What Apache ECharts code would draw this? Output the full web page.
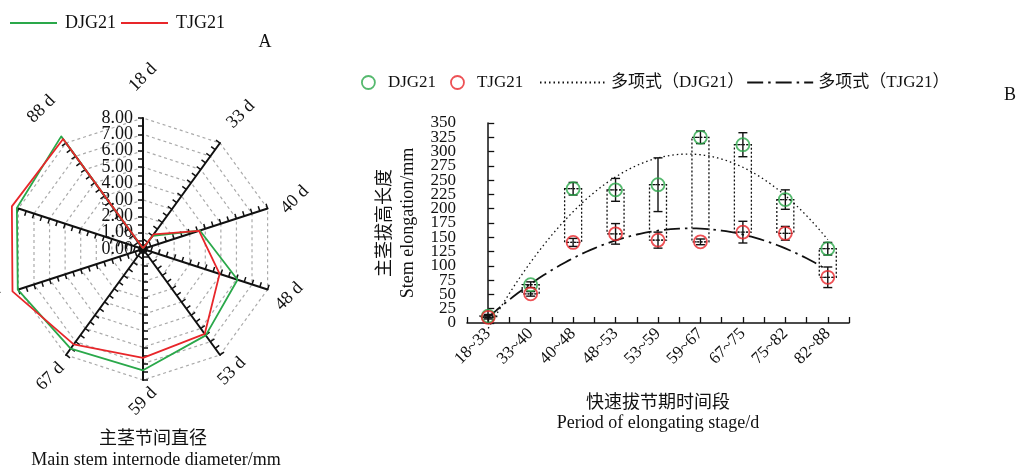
<!DOCTYPE html>
<html>
<head>
<meta charset="utf-8">
<script src="https://cdn.jsdelivr.net/npm/echarts@6/dist/echarts.min.js"></script>
<style>
  html, body { margin: 0; padding: 0; background: #fff; }
  #chart { width: 1023px; height: 470px; }
</style>
</head>
<body>
<div id="chart"></div>
<script>
// ---- Panel A: main stem internode diameter (mm) at each sampling day ----
const diamDays = ['18 d', '33 d', '40 d', '48 d', '53 d', '59 d', '67 d', '75 d', '82 d', '88 d'];
const diamDJG21 = [0.05, 1.0, 3.65, 6.07, 6.52, 7.41, 7.52, 8.04, 8.1, 8.5];
const diamTJG21 = [0.05, 1.1, 3.6, 4.92, 6.41, 6.65, 7.2, 8.38, 8.42, 8.3];
const diamTicks = [0, 1, 2, 3, 4, 5, 6, 7, 8];

// ---- Panel B: stem elongation (mm) in each rapid-jointing period ----
const periods = ['18~33', '33~40', '40~48', '48~53', '53~59', '59~67', '67~75', '75~82', '82~88'];
const elongDJG21 = [12, 67, 235, 233, 242, 325, 312, 216, 130];
const errDJG21 = [3, 5, 11, 20, 47, 11, 21, 17, 11];
const elongTJG21 = [10, 51, 141, 156, 145, 142, 159, 157, 80];
const errTJG21 = [3, 4, 7, 18, 14, 5, 19, 12, 18];
const elongTicks = [0, 25, 50, 75, 100, 125, 150, 175, 200, 225, 250, 275, 300, 325, 350];

const SERIF = '"Liberation Serif", "Noto Sans CJK SC", serif';
const GREEN = '#2aa84a';
const RED = '#e8262a';
const INK = '#111';

// Second-order least-squares trend line of a series over x = 0..n-1
function fitQuadratic(ys) {
  const s = [0, 0, 0, 0, 0], t = [0, 0, 0];
  ys.forEach((y, x) => {
    for (let k = 0; k < 5; k++) s[k] += Math.pow(x, k);
    for (let k = 0; k < 3; k++) t[k] += y * Math.pow(x, k);
  });
  const m = [[s[0], s[1], s[2], t[0]], [s[1], s[2], s[3], t[1]], [s[2], s[3], s[4], t[2]]];
  for (let i = 0; i < 3; i++) {
    for (let j = i + 1; j < 3; j++) {
      const f = m[j][i] / m[i][i];
      for (let k = i; k < 4; k++) m[j][k] -= f * m[i][k];
    }
  }
  const c = [0, 0, 0];
  for (let i = 2; i >= 0; i--) {
    let v = m[i][3];
    for (let k = i + 1; k < 3; k++) v -= m[i][k] * c[k];
    c[i] = v / m[i][i];
  }
  return x => c[0] + c[1] * x + c[2] * x * x;
}
function trendPoints(ys) {
  const f = fitQuadratic(ys);
  const pts = [];
  for (let i = 0; i <= (ys.length - 1) * 10; i++) pts.push([i / 10, f(i / 10)]);
  return pts;
}

// Tick labels are tightly packed, so alternate ones go on two overlaid axes
const tickIndex = (v, ticks) => ticks.findIndex(t => Math.abs(t - v) < 1e-6);
const evenTick = (ticks, fmt) => v => { const i = tickIndex(v, ticks); return i >= 0 && i % 2 === 0 ? fmt(ticks[i]) : ''; };
const oddTick = (ticks, fmt) => v => { const i = tickIndex(v, ticks); return i >= 0 && i % 2 === 1 ? fmt(ticks[i]) : ''; };

// Radar indicators run counter-clockwise from the top, so list the days in that order
const radarOrder = [0].concat(diamDays.slice(1).map((d, i) => diamDays.length - 1 - i));
const byRadar = arr => radarOrder.map(i => arr[i]);
const RADAR_C = [143, 249];
const RADAR_R = 131;
const diamMax = diamTicks[diamTicks.length - 1];
const diamFmt = v => Number(v).toFixed(2);

const radarBase = {
  center: RADAR_C,
  radius: RADAR_R,
  startAngle: 90,
  shape: 'polygon',
  axisName: { show: false },
  splitArea: { show: false }
};
const radarLabelBase = {
  show: false, color: INK, fontSize: 18, fontFamily: SERIF, margin: 10, hideOverlap: false
};
// Indicators for a label-carrying radar: only the top (18 d) axis shows numbers
const labelledIndicators = () => radarOrder.map((i, k) => Object.assign(
  { name: diamDays[i], min: 0, max: diamMax },
  k === 0 ? { axisLabel: { show: true } } : {}
));

// Day names around the radar, rotated like the printed labels
const dayLabels = diamDays.map((d, k) => {
  const th = (90 - 36 * k) * Math.PI / 180;
  const r = RADAR_R + 31 + 9.5 * Math.sin(th) - 5.6 * Math.cos(th);
  return {
    type: 'text',
    x: RADAR_C[0] + r * Math.cos(th),
    y: RADAR_C[1] - r * Math.sin(th),
    rotation: Math.PI / 4,
    style: { text: d, fontSize: 18, fontFamily: SERIF, fill: INK, align: 'center', verticalAlign: 'middle' }
  };
});

function spanBoxItem(params, api) {
  const x = api.value(0);
  const a = api.coord([x, api.value(1)]);
  const b = api.coord([x, api.value(2)]);
  const half = 8.5;
  return {
    type: 'rect',
    shape: { x: a[0] - half, y: a[1], width: half * 2, height: b[1] - a[1] },
    style: { fill: 'none', stroke: INK, lineWidth: 1.3, lineDash: [2, 2] }
  };
}

function errorBarItem(params, api) {
  const x = api.value(0), y = api.value(1), e = api.value(2);
  const top = api.coord([x, y + e]);
  const bot = api.coord([x, y - e]);
  const mid = api.coord([x, y]);
  const cap = 4.5;
  const st = { stroke: INK, lineWidth: 1.4 };
  return {
    type: 'group',
    children: [
      { type: 'line', shape: { x1: top[0], y1: top[1], x2: bot[0], y2: bot[1] }, style: st },
      { type: 'line', shape: { x1: top[0] - cap, y1: top[1], x2: top[0] + cap, y2: top[1] }, style: st },
      { type: 'line', shape: { x1: bot[0] - cap, y1: bot[1], x2: bot[0] + cap, y2: bot[1] }, style: st },
      { type: 'line', shape: { x1: mid[0] - 5.5, y1: mid[1], x2: mid[0] + 5.5, y2: mid[1] },
        style: { stroke: INK, lineWidth: 1.2, lineDash: [1.5, 1.5] } }
    ]
  };
}

const elongMin = elongTicks[0];
const elongMax = elongTicks[elongTicks.length - 1];
const elongStep = elongTicks[1] - elongTicks[0];
const yLabelBase = { fontSize: 17, fontFamily: SERIF, color: INK, margin: 11, hideOverlap: false };

const chart = echarts.init(document.getElementById('chart'), null, { renderer: 'canvas' });

chart.setOption({
  animation: false,
  backgroundColor: '#fff',
  textStyle: { fontFamily: SERIF, color: INK },
  legend: [
    {
      left: 10, top: 14, padding: 0, itemWidth: 47, itemHeight: 2, itemGap: 5, icon: 'rect',
      selectedMode: false,
      data: ['DJG21', 'TJG21'],
      textStyle: { fontSize: 18, fontFamily: SERIF, color: INK, padding: [0, 0, 0, 3] }
    },
    {
      left: 361, top: 74, padding: 0, itemWidth: 13, itemHeight: 13, itemGap: 14,
      selectedMode: false,
      data: ['DJG21 stem', 'TJG21 stem'],
      formatter: n => n.replace(' stem', ''),
      itemStyle: { borderWidth: 1.8 },
      textStyle: { fontSize: 17, fontFamily: SERIF, color: INK, padding: [0, 0, 0, 8] }
    },
    {
      left: 539, top: 74, padding: 0, itemWidth: 66, itemHeight: 13, itemGap: 2,
      selectedMode: false,
      data: ['多项式（DJG21）', '多项式（TJG21）'],
      itemStyle: { opacity: 0 },
      textStyle: { fontSize: 17, fontFamily: SERIF, color: INK }
    }
  ],
  graphic: dayLabels.concat([
    { type: 'text', x: 265, y: 42, style: { text: 'A', fontSize: 18, fontFamily: SERIF, fill: INK, align: 'center', verticalAlign: 'middle' } },
    { type: 'text', x: 1010, y: 95, style: { text: 'B', fontSize: 18, fontFamily: SERIF, fill: INK, align: 'center', verticalAlign: 'middle' } },
    { type: 'text', x: 153, y: 439, style: { text: '主茎节间直径', fontSize: 18, fontFamily: SERIF, fill: INK, align: 'center', verticalAlign: 'middle' } },
    { type: 'text', x: 156, y: 460, style: { text: 'Main stem internode diameter/mm', fontSize: 18, fontFamily: SERIF, fill: INK, align: 'center', verticalAlign: 'middle' } }
  ]),
  radar: [
    // spokes with half-unit ticks
    Object.assign({}, radarBase, {
      splitNumber: (diamTicks.length - 1) * 2,
      indicator: radarOrder.map(i => ({ name: diamDays[i], min: 0, max: diamMax })),
      axisLine: { show: true, lineStyle: { color: INK, width: 2 } },
      axisTick: { show: true, length: 5, lineStyle: { color: INK, width: 1.5 } },
      axisLabel: { show: false },
      splitLine: { show: false }
    }),
    // dashed rings and the even unit labels
    Object.assign({}, radarBase, {
      splitNumber: diamTicks.length - 1,
      indicator: labelledIndicators(),
      axisLine: { show: false },
      axisTick: { show: false },
      axisLabel: Object.assign({}, radarLabelBase, {
        showMinLabel: true, showMaxLabel: true, formatter: evenTick(diamTicks, diamFmt)
      }),
      splitLine: { show: true, lineStyle: { color: '#aaaaaa', width: 1.2, type: [3, 3] } }
    }),
    // odd unit labels
    Object.assign({}, radarBase, {
      splitNumber: diamTicks.length - 1,
      indicator: labelledIndicators(),
      axisLine: { show: false },
      axisTick: { show: false },
      axisLabel: Object.assign({}, radarLabelBase, {
        showMinLabel: false, showMaxLabel: false, formatter: oddTick(diamTicks, diamFmt)
      }),
      splitLine: { show: false }
    })
  ],
  grid: { left: 467, right: 174, top: 123, bottom: 147 },
  xAxis: {
    type: 'value',
    min: -0.5, max: periods.length - 0.5, interval: 0.5,
    name: '快速拔节期时间段\nPeriod of elongating stage/d',
    nameLocation: 'middle', nameGap: 70,
    nameTextStyle: { fontSize: 18, fontFamily: SERIF, color: INK, lineHeight: 20 },
    axisLine: { show: true, lineStyle: { color: INK, width: 1.5 } },
    axisTick: { show: true, inside: true, length: 6, lineStyle: { color: INK, width: 1.3 } },
    splitLine: { show: false },
    axisLabel: {
      rotate: 45, fontSize: 17, fontFamily: SERIF, color: INK, margin: 8,
      hideOverlap: false,
      formatter: v => {
        const i = Math.round(v);
        return Math.abs(v - i) < 1e-6 && i >= 0 && i < periods.length ? periods[i] : '';
      }
    }
  },
  yAxis: [
    {
      type: 'value',
      min: elongMin, max: elongMax, interval: elongStep,
      name: '主茎拔高长度\nStem elongation/mm',
      nameLocation: 'middle', nameRotate: 90, nameGap: 47,
      nameTextStyle: { fontSize: 18, fontFamily: SERIF, color: INK, lineHeight: 23 },
      axisLine: { show: true, lineStyle: { color: INK, width: 1.5 } },
      axisTick: { show: true, inside: true, length: 6, lineStyle: { color: INK, width: 1.3 } },
      splitLine: { show: false },
      axisLabel: Object.assign({}, yLabelBase, {
        showMinLabel: true, showMaxLabel: true, formatter: evenTick(elongTicks, String)
      })
    },
    {
      type: 'value',
      position: 'left',
      min: elongMin, max: elongMax, interval: elongStep,
      axisLine: { show: false },
      axisTick: { show: false },
      splitLine: { show: false },
      axisLabel: Object.assign({}, yLabelBase, {
        showMinLabel: false, showMaxLabel: false, formatter: oddTick(elongTicks, String)
      })
    }
  ],
  series: [
    {
      type: 'radar',
      radarIndex: 1,
      symbol: 'none',
      data: [
        { name: 'DJG21', value: byRadar(diamDJG21), itemStyle: { color: GREEN }, lineStyle: { color: GREEN, width: 1.8 } },
        { name: 'TJG21', value: byRadar(diamTJG21), itemStyle: { color: RED }, lineStyle: { color: RED, width: 1.8 } }
      ],
      z: 5
    },
    {
      type: 'custom',
      name: 'range',
      renderItem: spanBoxItem,
      data: periods.map((p, i) => [i, elongDJG21[i], elongTJG21[i]]),
      encode: { x: 0, y: [1, 2] },
      z: 2
    },
    {
      type: 'line',
      name: '多项式（DJG21）',
      data: trendPoints(elongDJG21),
      symbol: 'none',
      clip: false,
      itemStyle: { color: INK },
      lineStyle: { color: INK, width: 1.3, type: [1.5, 3] },
      z: 3
    },
    {
      type: 'line',
      name: '多项式（TJG21）',
      data: trendPoints(elongTJG21),
      symbol: 'none',
      clip: false,
      itemStyle: { color: INK },
      lineStyle: { color: INK, width: 1.8, type: [16, 5, 2.5, 5] },
      z: 3
    },
    {
      type: 'custom',
      name: 'DJG21 error',
      renderItem: errorBarItem,
      data: periods.map((p, i) => [i, elongDJG21[i], errDJG21[i]]),
      encode: { x: 0, y: 1 },
      z: 4
    },
    {
      type: 'custom',
      name: 'TJG21 error',
      renderItem: errorBarItem,
      data: periods.map((p, i) => [i, elongTJG21[i], errTJG21[i]]),
      encode: { x: 0, y: 1 },
      z: 4
    },
    {
      type: 'scatter',
      name: 'DJG21 stem',
      data: periods.map((p, i) => [i, elongDJG21[i]]),
      symbol: 'circle',
      symbolSize: 13,
      itemStyle: { color: 'rgba(255,255,255,0)', borderColor: GREEN, borderWidth: 1.8 },
      z: 6
    },
    {
      type: 'scatter',
      name: 'TJG21 stem',
      data: periods.map((p, i) => [i, elongTJG21[i]]),
      symbol: 'circle',
      symbolSize: 13,
      itemStyle: { color: 'rgba(255,255,255,0)', borderColor: RED, borderWidth: 1.8 },
      z: 6
    }
  ]
});
</script>
</body>
</html>
